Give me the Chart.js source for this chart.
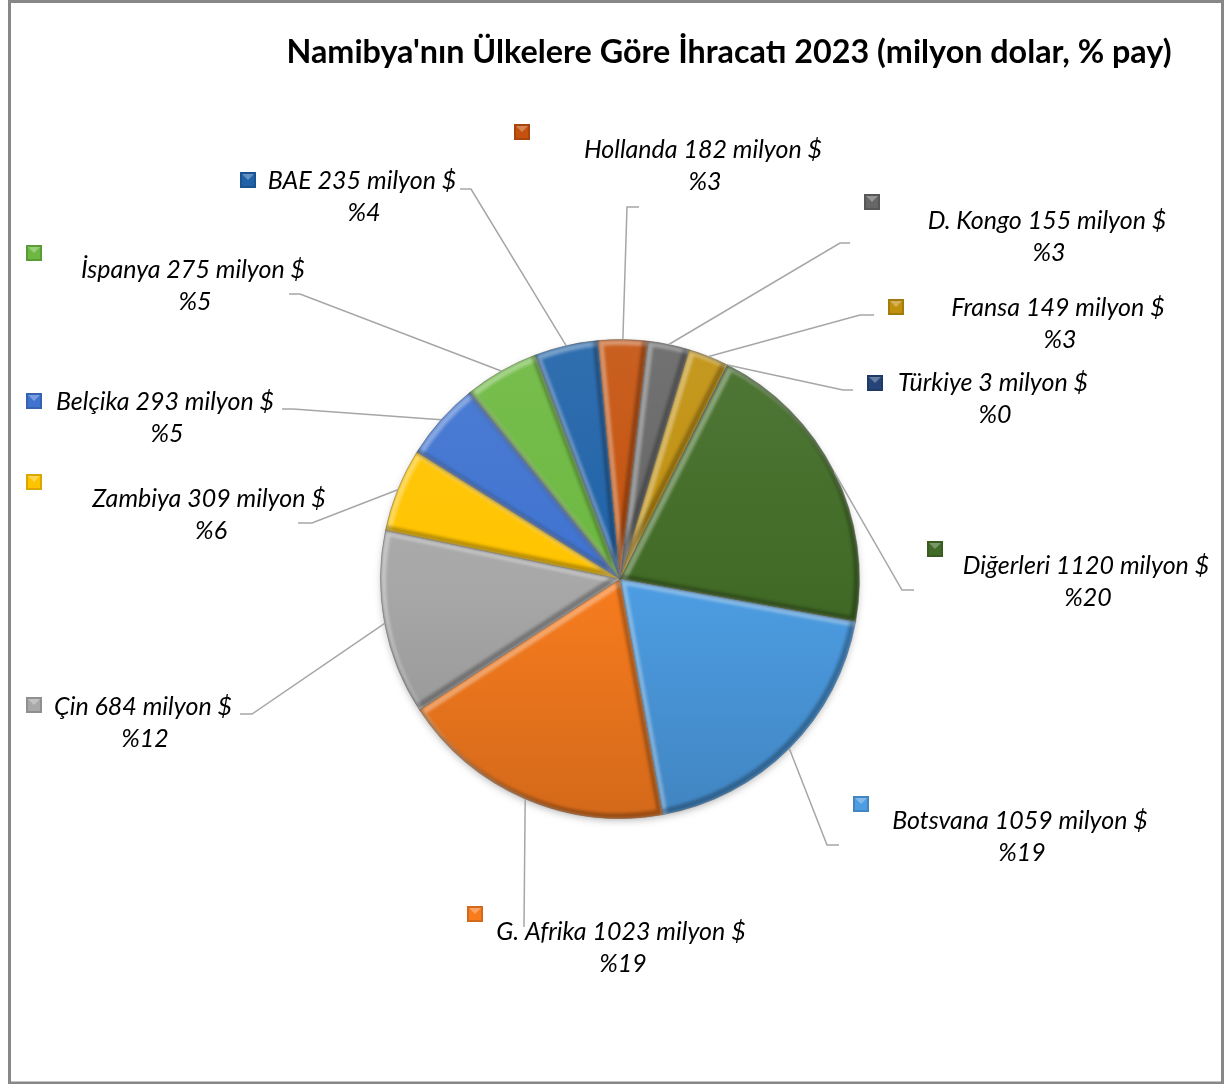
<!DOCTYPE html>
<html>
<head>
<meta charset="utf-8">
<script src="https://cdn.jsdelivr.net/npm/chart.js@4.4.1/dist/chart.umd.min.js"></script>
<style>
  body { margin: 0; background: #fff; }
  canvas { display: block; }
</style>
</head>
<body>
<canvas id="ihracatGraf" width="1231" height="1084"></canvas>
<script>
// Ülkeler (saat yönünde, Türkiye'den başlayarak)
const ulkeler = ['Türkiye', 'Diğerleri', 'Botsvana', 'G. Afrika', 'Çin', 'Zambiya',
  'Belçika', 'İspanya', 'BAE', 'Hollanda', 'D. Kongo', 'Fransa'];
// İhracat, milyon $
const degerler = [3, 1120, 1059, 1023, 684, 309, 293, 275, 235, 182, 155, 149];
const renkler = ['#264478', '#416b26', '#4d9de3', '#f87c1e', '#a8a8a8', '#ffc400',
  '#3f73d0', '#6cb840', '#1f62a8', '#c4520e', '#666666', '#c0900e'];
const baslik = "Namibya'nın Ülkelere Göre İhracatı 2023 (milyon dolar, % pay)";

// Etiket yerleşimi: anahtar kare (kx,ky), metin merkezi (tx,ty), kılavuz çizgi dirseği (ex,ey), uç (sx)
const etiketYeri = [
  { kx: 867, ky: 375, tx: 993, ty: 383, ex: 843, ey: 390, sx: 853 },
  { kx: 927, ky: 541, tx: 1086, ty: 566, ex: 902, ey: 590, sx: 914 },
  { kx: 853, ky: 796, tx: 1020, ty: 821, ex: 827, ey: 845, sx: 839 },
  { kx: 467, ky: 906, tx: 621, ty: 932, ex: 524, ey: 927, sx: 524 },
  { kx: 26, ky: 697, tx: 143, ty: 707, ex: 252, ey: 714, sx: 240 },
  { kx: 26, ky: 474, tx: 209, ty: 499, ex: 312, ey: 523, sx: 298 },
  { kx: 26, ky: 393, tx: 165, ty: 402, ex: 293, ey: 409, sx: 282 },
  { kx: 26, ky: 245, tx: 193, ty: 270, ex: 300, ey: 294, sx: 289 },
  { kx: 240, ky: 172, tx: 362, ty: 181, ex: 471, ey: 189, sx: 460 },
  { kx: 514, ky: 124, tx: 703, ty: 150, ex: 627, ey: 207, sx: 639 },
  { kx: 864, ky: 194, tx: 1047, ty: 221, ex: 840, ey: 243, sx: 850 },
  { kx: 888, ky: 299, tx: 1058, ty: 308, ex: 860, ey: 315, sx: 874 }
];

const toplam = degerler.reduce((s, v) => s + v, 0);

// Rengi beyaz (t>0) ya da siyah (t<0) ile karıştır
function karistir(hex, t) {
  const n = parseInt(hex.slice(1), 16);
  let r = (n >> 16) & 255, g = (n >> 8) & 255, b = n & 255;
  const hedef = t > 0 ? 255 : 0;
  const k = Math.abs(t);
  r = Math.round(r + (hedef - r) * k);
  g = Math.round(g + (hedef - g) * k);
  b = Math.round(b + (hedef - b) * k);
  return `rgb(${r},${g},${b})`;
}

function dilimRengi(context) {
  const base = renkler[context.dataIndex];
  const area = context.chart.chartArea;
  if (!area) return base;
  const g = context.chart.ctx.createLinearGradient(0, area.top, 0, area.bottom);
  g.addColorStop(0, karistir(base, 0.08));
  g.addColorStop(0.5, base);
  g.addColorStop(1, karistir(base, -0.15));
  return g;
}

function dilimYolu(ctx, a) {
  ctx.beginPath();
  ctx.moveTo(a.x, a.y);
  ctx.arc(a.x, a.y, a.outerRadius, a.startAngle, a.endAngle);
  ctx.closePath();
}

// Gölge, kabartma, etiketler ve başlık
const suslemeEklentisi = {
  id: 'susleme',
  beforeDatasetsDraw(chart) {
    const ctx = chart.ctx;
    const a = chart.getDatasetMeta(0).data[0];
    ctx.save();
    ctx.shadowColor = 'rgba(0,0,0,0.35)';
    ctx.shadowBlur = 9;
    ctx.shadowOffsetY = 3;
    ctx.fillStyle = '#fff';
    ctx.beginPath();
    ctx.arc(a.x, a.y, a.outerRadius - 2, 0, Math.PI * 2);
    ctx.fill();
    ctx.restore();
  },
  afterDatasetsDraw(chart) {
    const ctx = chart.ctx;
    const meta = chart.getDatasetMeta(0);
    // kabartma kenarları
    meta.data.forEach((el) => {
      const a = el.getProps(['x', 'y', 'startAngle', 'endAngle', 'outerRadius'], true);
      ctx.save();
      dilimYolu(ctx, a);
      ctx.clip();
      ctx.filter = 'blur(1.5px)';
      ctx.lineWidth = 6;
      ctx.translate(2.5, 2.5);
      dilimYolu(ctx, a);
      ctx.strokeStyle = 'rgba(255,255,255,0.35)';
      ctx.stroke();
      ctx.translate(-5, -5);
      dilimYolu(ctx, a);
      ctx.strokeStyle = 'rgba(0,0,0,0.28)';
      ctx.stroke();
      ctx.restore();
    });

    // kılavuz çizgiler ve etiketler
    ctx.save();
    meta.data.forEach((el, i) => {
      const a = el.getProps(['x', 'y', 'startAngle', 'endAngle', 'outerRadius'], true);
      const yer = etiketYeri[i];
      const orta = (a.startAngle + a.endAngle) / 2;
      const px = a.x + Math.cos(orta) * a.outerRadius;
      const py = a.y + Math.sin(orta) * a.outerRadius;
      ctx.strokeStyle = '#a6a6a6';
      ctx.lineWidth = 1.5;
      ctx.beginPath();
      ctx.moveTo(px, py);
      ctx.lineTo(yer.ex, yer.ey);
      ctx.lineTo(yer.sx, yer.ey);
      ctx.stroke();

      // anahtar kare
      const s = 16;
      const renk = renkler[i];
      ctx.fillStyle = karistir(renk, -0.15);
      ctx.fillRect(yer.kx, yer.ky, s, s);
      ctx.fillStyle = renk;
      ctx.fillRect(yer.kx + 2, yer.ky + 2, s - 4, s - 4);
      ctx.fillStyle = karistir(renk, 0.3);
      ctx.beginPath();
      ctx.moveTo(yer.kx + 2, yer.ky + 2);
      ctx.lineTo(yer.kx + s - 2, yer.ky + 2);
      ctx.lineTo(yer.kx + s / 2, yer.ky + s / 2);
      ctx.closePath();
      ctx.fill();

      // metin
      const yuzde = Math.round(degerler[i] / toplam * 100);
      ctx.fillStyle = '#000';
      ctx.font = 'italic 25px Lato';
      ctx.textAlign = 'center';
      ctx.textBaseline = 'middle';
      ctx.fillText(`${ulkeler[i]} ${degerler[i]} milyon $`, yer.tx, yer.ty);
      ctx.fillText(`%${yuzde}`, yer.tx + 2, yer.ty + 32);
    });

    // başlık
    ctx.font = 'bold 32.3px Lato';
    ctx.fillStyle = '#000';
    ctx.textAlign = 'center';
    ctx.textBaseline = 'alphabetic';
    ctx.fillText(baslik, 729, 63);

    // çerçeve
    ctx.strokeStyle = '#878787';
    ctx.lineWidth = 3;
    ctx.strokeRect(9.5, 1.5, 1213, 1081.5);
    ctx.restore();
  }
};

function lagGraf() {
  const ctx = document.getElementById('ihracatGraf').getContext('2d');
  new Chart(ctx, {
    type: 'pie',
    data: {
      labels: ulkeler,
      datasets: [{
        data: degerler,
        backgroundColor: dilimRengi,
        borderColor: 'rgba(60,60,60,0.35)',
        borderWidth: 1
      }]
    },
    options: {
      responsive: false,
      animation: false,
      rotation: 26.6,
      layout: { padding: { left: 380, right: 371, top: 339, bottom: 265 } },
      plugins: {
        legend: { display: false },
        title: { display: false },
        tooltip: { enabled: false }
      }
    },
    plugins: [suslemeEklentisi]
  });
}

window.onload = function() {
  lagGraf();
};
</script>
</body>
</html>
